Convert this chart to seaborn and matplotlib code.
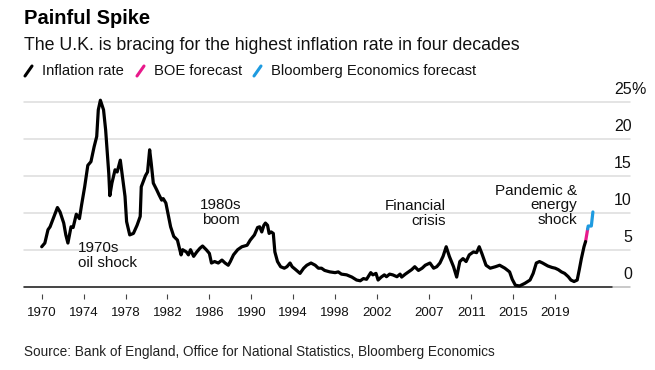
import seaborn as sns
import matplotlib.pyplot as plt
from matplotlib.lines import Line2D
import matplotlib.transforms as mtransforms

# UK inflation rate, %
years = [1970.0, 1970.3, 1970.6, 1970.8, 1971.1, 1971.5, 1971.75, 1972.1, 1972.3, 1972.5,
         1972.8, 1973.0, 1973.3, 1973.6, 1973.8, 1974.1, 1974.4, 1974.7, 1975.0, 1975.25,
         1975.4, 1975.6, 1975.9, 1976.1, 1976.4, 1976.5, 1976.7, 1977.0, 1977.2, 1977.5,
         1977.7, 1977.95, 1978.1, 1978.4, 1978.75, 1979.1, 1979.4, 1979.5, 1979.9, 1980.1,
         1980.3, 1980.45, 1980.65, 1980.97, 1981.2, 1981.45, 1981.6, 1981.85, 1982.1, 1982.3,
         1982.6, 1982.95, 1983.3, 1983.45, 1983.8, 1984.0, 1984.2, 1984.5, 1984.8, 1985.1,
         1985.35, 1985.7, 1986.0, 1986.2, 1986.5, 1986.85, 1987.2, 1987.5, 1987.8, 1988.0,
         1988.3, 1988.7, 1989.1, 1989.6, 1989.9, 1990.3, 1990.6, 1990.8, 1991.0, 1991.2,
         1991.35, 1991.55, 1991.7, 1991.9, 1992.1, 1992.25, 1992.5, 1992.8, 1993.15, 1993.4,
         1993.7, 1993.9, 1994.2, 1994.65, 1995.0, 1995.3, 1995.7, 1996.1, 1996.4, 1996.7,
         1997.0, 1997.5, 1998.0, 1998.3, 1998.6, 1999.1, 1999.6, 2000.05, 2000.4, 2000.7,
         2001.0, 2001.4, 2001.6, 2001.9, 2002.1, 2002.4, 2002.7, 2002.9, 2003.2, 2003.5,
         2003.9, 2004.2, 2004.35, 2004.7, 2005.0, 2005.3, 2005.6, 2005.95, 2006.3, 2006.6,
         2007.05, 2007.4, 2007.7, 2008.0, 2008.3, 2008.6, 2008.9, 2009.3, 2009.6, 2009.9,
         2010.2, 2010.5, 2010.8, 2011.2, 2011.5, 2011.75, 2012.0, 2012.4, 2012.8, 2013.3,
         2013.7, 2014.2, 2014.65, 2014.9, 2015.2, 2015.6, 2016.1, 2016.6, 2016.9, 2017.2,
         2017.5, 2017.8, 2018.3, 2018.7, 2019.0, 2019.3, 2019.6, 2019.9, 2020.25, 2020.5,
         2020.8, 2021.1, 2021.3, 2021.5, 2021.75, 2021.9]
inflation = [5.4, 5.9, 7.7, 8.1, 9.2, 10.7, 10.1, 8.6, 7.0, 5.9,
             8.1, 8.0, 9.8, 9.2, 11.0, 13.5, 16.4, 16.9, 18.9, 20.3,
             23.9, 25.2, 23.9, 21.2, 15.3, 12.3, 14.0, 15.8, 15.5, 17.1,
             14.9, 12.2, 8.8, 7.0, 7.2, 8.3, 9.5, 13.5, 15.0, 15.5,
             18.5, 16.7, 14.0, 13.1, 12.4, 11.7, 11.9, 11.3, 9.5, 8.1,
             6.8, 6.3, 4.3, 5.0, 4.7, 4.3, 5.0, 4.1, 4.7, 5.2,
             5.5, 5.0, 4.5, 3.2, 3.4, 3.2, 3.6, 3.2, 2.9, 3.4,
             4.3, 5.0, 5.4, 5.6, 6.3, 7.0, 8.0, 8.1, 7.4, 8.3,
             8.6, 8.3, 7.2, 7.4, 7.2, 4.7, 3.4, 2.7, 2.5, 2.7,
             3.2, 2.7, 2.35, 1.8, 2.5, 2.9, 3.2, 2.9, 2.5, 2.5,
             2.2, 2.0, 1.9, 2.0, 1.7, 1.6, 1.3, 0.9, 0.8, 1.1,
             1.0, 1.9, 1.6, 1.8, 0.9, 1.3, 1.6, 1.35, 1.7, 1.6,
             1.35, 1.7, 1.3, 1.7, 2.0, 2.3, 2.7, 2.2, 2.5, 2.9,
             3.2, 2.5, 2.7, 3.2, 4.1, 5.4, 4.1, 2.7, 1.3, 3.4,
             3.8, 3.4, 4.3, 4.7, 4.6, 5.4, 4.5, 2.9, 2.5, 2.7,
             2.9, 2.5, 2.0, 1.0, 0.2, 0.1, 0.45, 0.9, 1.8, 3.2,
             3.4, 3.2, 2.8, 2.6, 2.5, 2.3, 2.0, 1.8, 1.35, 0.9,
             0.7, 0.9, 2.3, 3.8, 5.4, 6.1]

boe_years = [2021.9, 2022.1]
boe_forecast = [6.1, 7.8]
bbg_years = [2022.1, 2022.15, 2022.45, 2022.6]
bbg_forecast = [7.8, 8.2, 8.2, 10.1]

tick_years = [1970, 1974, 1978, 1982, 1986, 1990, 1994, 1998, 2002, 2007, 2011, 2015, 2019]
y_levels = [0, 5, 10, 15, 20, 25]

BLACK = '#000000'
PINK = '#e8198b'
BLUE = '#1e9be0'

sns.set_theme(style='white')
plt.rcParams['font.family'] = ['Liberation Sans', 'DejaVu Sans']

W, H = 655, 370
fig = plt.figure(figsize=(W / 100, H / 100), dpi=100)


def fx(px):
    return px / W


def fy(py):
    return 1 - py / H


ax = fig.add_axes([fx(24), fy(286.7), fx(606), 185 / H])
ax.set_xlim(1968.31, 2026.14)
ax.set_ylim(0, 25)

# grid + baseline
for v in y_levels[1:]:
    ax.axhline(v, color='#dcdcdc', lw=1.1, zorder=0)
ax.axhline(0, color='#bbbbbb', lw=1.1, zorder=1)
ax.axhline(0, xmin=0, xmax=(612 - 24) / 606, color='#222222', lw=1.1, zorder=2)

sns.lineplot(x=years, y=inflation, color=BLACK, lw=2.3, ax=ax, zorder=5)
sns.lineplot(x=boe_years, y=boe_forecast, color=PINK, lw=2.3, ax=ax, zorder=4)
sns.lineplot(x=bbg_years, y=bbg_forecast, color=BLUE, lw=2.3, ax=ax, zorder=4)
for ln in ax.lines:
    ln.set_solid_joinstyle('round')
    ln.set_clip_on(False)

for s in ['top', 'left', 'right']:
    ax.spines[s].set_visible(False)
ax.spines['bottom'].set_visible(False)
ax.spines['bottom'].set_position(('outward', 5))
ax.set_yticks([])
ax.set_xticks(tick_years)
ax.set_xticklabels([str(t) for t in tick_years], fontsize=9.5)
ax.tick_params(axis='x', bottom=True, length=3.5, width=0.8, color='#444444', pad=6,
               labelcolor='#111111')
ax.set_xlabel('')
ax.set_ylabel('')

# right-hand value labels sitting on top of the gridlines
tr = mtransforms.blended_transform_factory(ax.transAxes, ax.transData)
for v in y_levels:
    ax.text(1.003, v + 1.1, str(v), transform=tr, ha='right', va='baseline',
            fontsize=11.5, color='#111111')
ax.text(1.003, 25 + 1.1, '%', transform=tr, ha='left', va='baseline',
        fontsize=11.5, color='#111111')

# annotations
ann = dict(fontsize=11, color='#111111', linespacing=1.05)
ax.text(1973.45, 4.2, '1970s\noil shock', ha='left', va='center', **ann)
ax.text(1987.1, 10.0, '1980s\nboom', ha='center', va='center', **ann)
ax.text(2008.6, 9.9, 'Financial\ncrisis', ha='right', va='center', multialignment='right', **ann)
ax.text(2021.1, 11.0, 'Pandemic &\nenergy\nshock', ha='right', va='center',
        multialignment='right', **ann)

# titles
fig.text(fx(24), fy(19), 'Painful Spike', fontsize=14.5, fontweight='bold',
         ha='left', va='center', color='#000000')
fig.text(fx(24), fy(45), 'The U.K. is bracing for the highest inflation rate in four decades',
         fontsize=12.8, ha='left', va='center', color='#111111')

# legend
legend_items = [(24, 'Inflation rate', BLACK), (136, 'BOE forecast', PINK),
                (253, 'Bloomberg Economics forecast', BLUE)]
for x0, label, col in legend_items:
    fig.add_artist(Line2D([fx(x0 + 1), fx(x0 + 8)], [fy(76), fy(66)], color=col, lw=2.2))
    fig.text(fx(x0 + 18), fy(71), label, fontsize=10.6, ha='left', va='center', color='#111111')

fig.text(fx(24), fy(352), 'Source: Bank of England, Office for National Statistics, Bloomberg Economics',
         fontsize=9.8, ha='left', va='center', color='#222222')

fig.savefig('out.png', dpi=100, facecolor='white')
